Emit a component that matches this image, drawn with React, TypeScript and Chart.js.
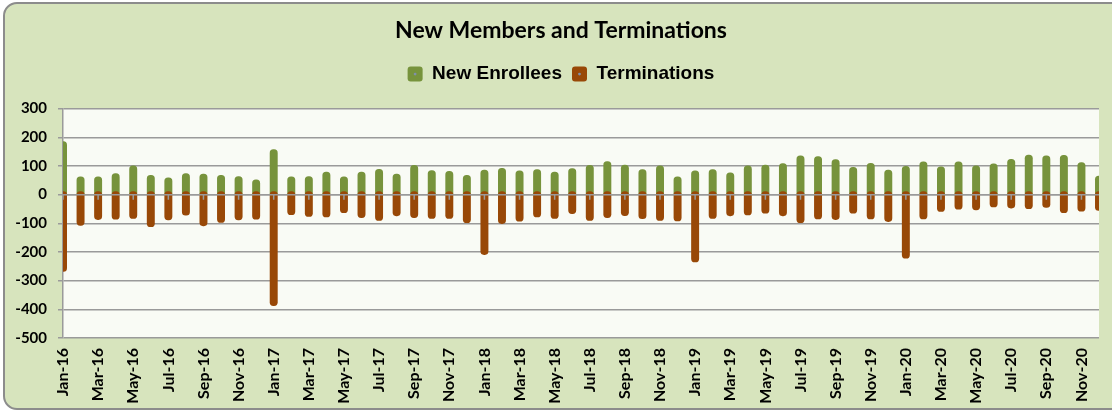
import React, { useEffect, useRef } from "react";
import { Chart, registerables } from "chart.js";

Chart.register(...registerables);

const months = [
  "Jan-16", "Feb-16", "Mar-16", "Apr-16", "May-16", "Jun-16", "Jul-16", "Aug-16", "Sep-16", "Oct-16", "Nov-16", "Dec-16",
  "Jan-17", "Feb-17", "Mar-17", "Apr-17", "May-17", "Jun-17", "Jul-17", "Aug-17", "Sep-17", "Oct-17", "Nov-17", "Dec-17",
  "Jan-18", "Feb-18", "Mar-18", "Apr-18", "May-18", "Jun-18", "Jul-18", "Aug-18", "Sep-18", "Oct-18", "Nov-18", "Dec-18",
  "Jan-19", "Feb-19", "Mar-19", "Apr-19", "May-19", "Jun-19", "Jul-19", "Aug-19", "Sep-19", "Oct-19", "Nov-19", "Dec-19",
  "Jan-20", "Feb-20", "Mar-20", "Apr-20", "May-20", "Jun-20", "Jul-20", "Aug-20", "Sep-20", "Oct-20", "Nov-20", "Dec-20",
];

const newEnrollees = [
  185, 62, 62, 73, 100, 67, 59, 73, 72, 67, 63, 52,
  157, 62, 63, 79, 62, 79, 88, 72, 102, 84, 81, 67,
  86, 92, 83, 87, 79, 91, 102, 115, 103, 87, 100, 62,
  83, 87, 76, 100, 103, 108, 135, 133, 122, 95, 109, 86,
  99, 114, 97, 114, 100, 107, 123, 138, 135, 137, 112, 65,
];

const terminations = [
  -268, -107, -87, -86, -83, -112, -88, -72, -109, -97, -88, -86,
  -387, -70, -76, -78, -63, -80, -90, -74, -80, -83, -83, -98,
  -209, -101, -93, -78, -83, -66, -90, -80, -73, -84, -90, -92,
  -235, -83, -74, -71, -65, -74, -98, -85, -87, -65, -85, -94,
  -222, -85, -59, -51, -53, -43, -47, -49, -45, -63, -58, -55,
];

const yMin = -500;
const yMax = 300;
const yStep = 100;

const GREEN = "#77933c";
const BROWN = "#984807";
const GRID = "#9a9a9a";

const plotBg = {
  id: "plotBg",
  beforeDraw(chart: any) {
    const { ctx, chartArea } = chart;
    ctx.save();
    ctx.fillStyle = "#f9fbf5";
    ctx.fillRect(chartArea.left, chartArea.top, chartArea.right - chartArea.left, chartArea.bottom - chartArea.top);
    ctx.restore();
  },
};

const zeroAxis = {
  id: "zeroAxis",
  afterDatasetsDraw(chart: any) {
    const { ctx, chartArea, scales } = chart;
    const y0 = scales.y.getPixelForValue(0);
    ctx.save();
    ctx.strokeStyle = GRID;
    ctx.lineWidth = 1.5;
    ctx.beginPath();
    ctx.moveTo(chartArea.left, y0);
    ctx.lineTo(chartArea.right, y0);
    for (let i = 0; i < months.length; i += 2) {
      const x = scales.x.getPixelForValue(i);
      ctx.moveTo(x, y0);
      ctx.lineTo(x, y0 + 5);
    }
    ctx.stroke();
    ctx.restore();
  },
};

const legendExtra = {
  id: "legendExtra",
  beforeInit(chart: any) {
    const legend = chart.legend;
    if (!legend) return;
    const origFit = legend.fit;
    legend.fit = function () {
      origFit.call(this);
      this.height += 15;
    };
  },
  afterDraw(chart: any) {
    const legend = chart.legend;
    if (!legend || !legend.legendHitBoxes) return;
    const { ctx } = chart;
    ctx.save();
    ctx.fillStyle = "#8090aa";
    legend.legendHitBoxes.forEach((hb: any) => {
      ctx.beginPath();
      ctx.arc(hb.left + 7.5, hb.top + hb.height / 2, 1.4, 0, Math.PI * 2);
      ctx.fill();
    });
    ctx.restore();
  },
};

export default function App() {
  const canvasRef = useRef<HTMLCanvasElement | null>(null);

  useEffect(() => {
    if (!canvasRef.current) return;
    const chart = new Chart(canvasRef.current, {
      type: "bar",
      data: {
        labels: months,
        datasets: [
          {
            label: "New Enrollees",
            data: newEnrollees,
            backgroundColor: GREEN,
            borderWidth: 0,
            borderRadius: 3.6,
            borderSkipped: "start",
            barThickness: 7.3,
            grouped: false,
            clip: 0,
            order: 2,
          } as any,
          {
            label: "Terminations",
            data: terminations,
            backgroundColor: BROWN,
            borderWidth: 0,
            borderRadius: 3.6,
            borderSkipped: false,
            base: 11,
            barThickness: 7.3,
            grouped: false,
            clip: 0,
            order: 1,
          } as any,
        ],
      },
      options: {
        animation: false,
        responsive: false,
        maintainAspectRatio: false,
        layout: { padding: { left: 23, right: 23, top: 0, bottom: 0 } },
        plugins: {
          title: {
            display: true,
            text: "New Members and Terminations",
            color: "#000",
            font: { family: "Lato", size: 23, weight: "bold" },
            padding: { top: 17, bottom: 10 },
          },
          legend: {
            display: true,
            position: "top",
            labels: {
              color: "#000",
              font: { family: "Liberation Sans", size: 19, weight: "bold" },
              boxWidth: 15,
              boxHeight: 15,
              useBorderRadius: true,
              borderRadius: 3,
              padding: 10,
              sort: (a: any, b: any) => a.datasetIndex - b.datasetIndex,
            },
          },
          tooltip: { enabled: false },
        },
        scales: {
          x: {
            type: "category",
            offset: false,
            grid: { display: false, drawTicks: false },
            border: { display: false },
            ticks: {
              autoSkip: false,
              maxRotation: 90,
              minRotation: 90,
              padding: 10,
              color: "#000",
              font: { family: "Lato", size: 16, weight: "bold" },
              callback: (_v: any, i: number) => (i % 2 === 0 ? months[i] : ""),
            },
            afterFit: (scale: any) => {
              scale.height = 74;
              scale.paddingLeft = 0;
              scale.paddingRight = 0;
            },
          },
          y: {
            min: yMin,
            max: yMax,
            ticks: {
              stepSize: yStep,
              color: "#000",
              padding: 11,
              font: { family: "Lato", size: 15, weight: "bold" },
            },
            grid: { color: GRID, lineWidth: 1.5, drawTicks: true, tickLength: 5 },
            border: { display: true, color: GRID, width: 1.5 },
            afterFit: (scale: any) => {
              scale.width = 40;
              scale._computeLabelArea = () => undefined;
            },
          },
        },
      },
      plugins: [plotBg, zeroAxis, legendExtra],
    });
    return () => chart.destroy();
  }, []);

  return (
    <div style={{ position: "fixed", left: 0, top: 0, width: 1112, height: 412, overflow: "hidden" }}>
      <div
        style={{
          position: "absolute",
          left: 3,
          top: 2,
          width: 1130,
          height: 404,
          border: "2px solid #8c8c8c",
          borderRadius: 14,
          background: "#d7e4bd",
        }}
      />
      <canvas ref={canvasRef} width={1122} height={412} style={{ position: "absolute", left: 0, top: 0, width: 1122, height: 412 }} />
    </div>
  );
}
